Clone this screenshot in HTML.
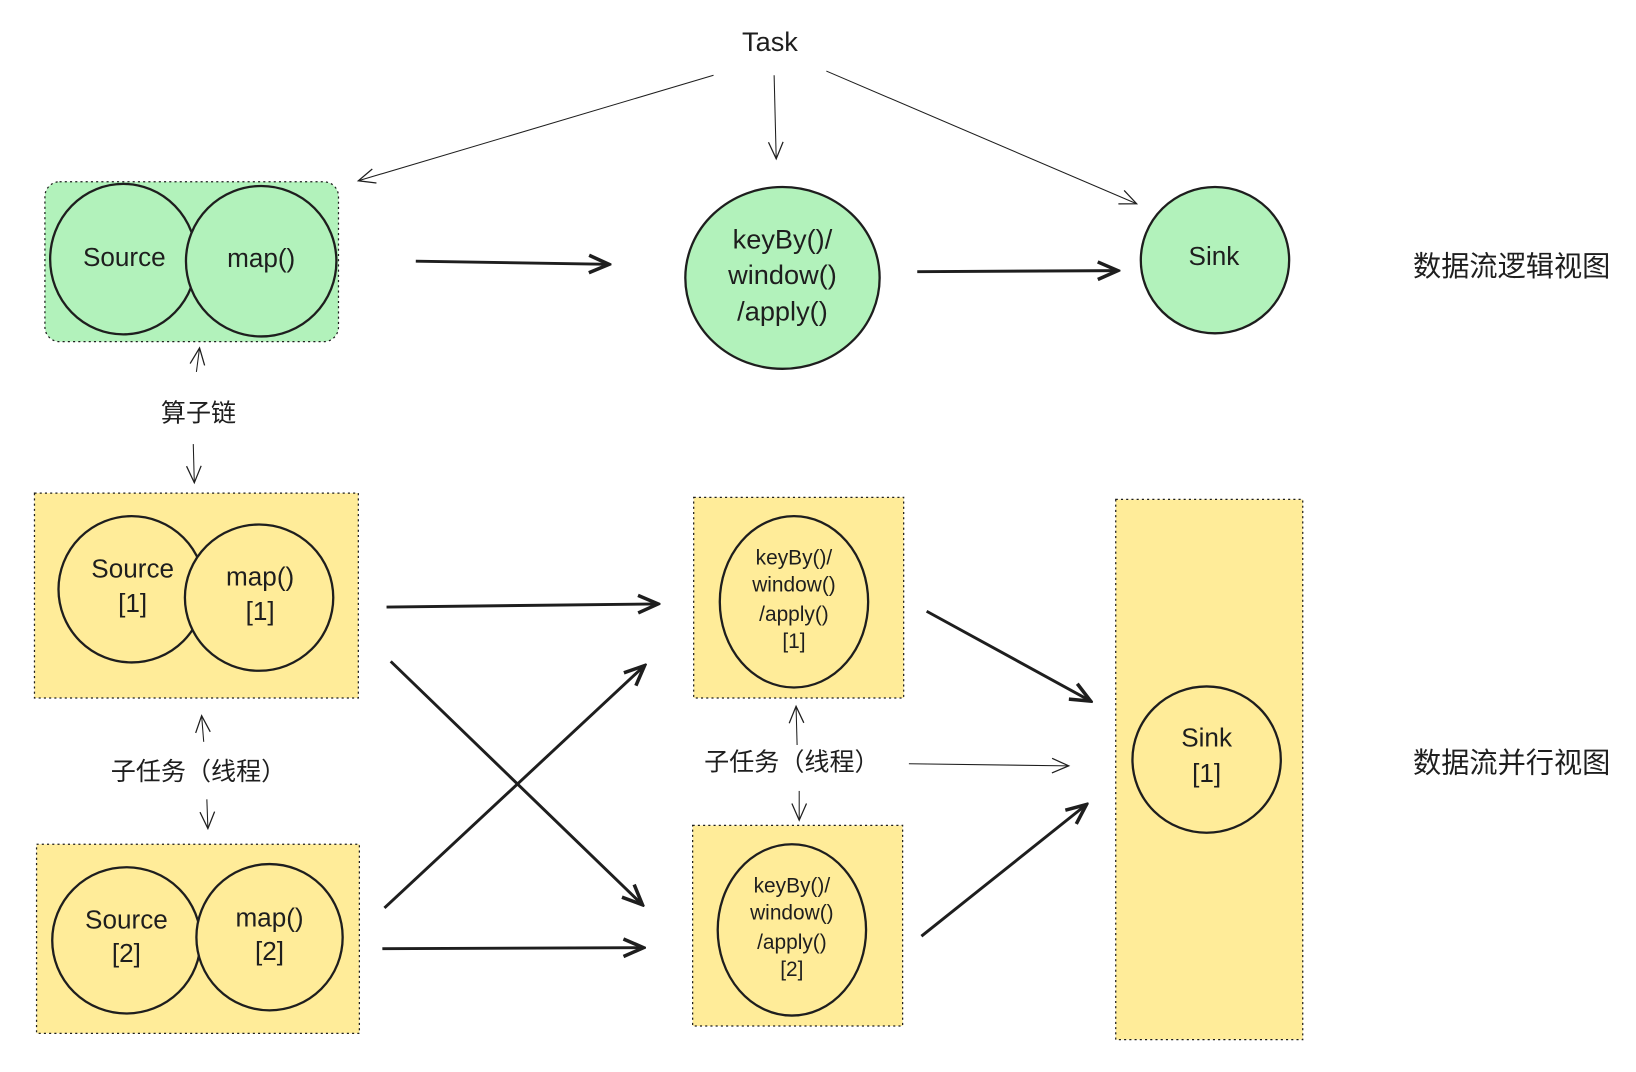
<!DOCTYPE html>
<html><head><meta charset="utf-8"><style>
html,body{margin:0;padding:0;background:#fff;width:1636px;height:1072px;overflow:hidden}
svg{display:block}
text{font-family:"Liberation Sans","Noto Sans CJK SC",sans-serif;fill:#1e1e1e;text-anchor:middle;dominant-baseline:middle}
</style></head><body>
<svg width="1636" height="1072" viewBox="0 0 1566 1026" preserveAspectRatio="none" xmlns="http://www.w3.org/2000/svg">
<defs>
<marker id="a" viewBox="0 0 20 20" refX="18" refY="10" markerWidth="20" markerHeight="20" markerUnits="userSpaceOnUse" orient="auto"><path d="M2 3 L18 10 L2 17" fill="none" stroke="#1e1e1e" stroke-width="1.2"/></marker>
<marker id="b" viewBox="0 0 20 20" refX="18" refY="10" markerWidth="24" markerHeight="24" markerUnits="userSpaceOnUse" orient="auto"><path d="M2 3 L18 10 L2 17" fill="none" stroke="#1e1e1e" stroke-width="2.8"/></marker>
</defs>
<g stroke="#1e1e1e" fill="none">
<rect x="43" y="174" width="281" height="153" rx="14" fill="#b2f2bb" stroke-dasharray="2 3" stroke-width="1.2"/>
<rect x="33" y="472" width="310" height="196" fill="#ffec99" stroke-dasharray="2 3" stroke-width="1.2"/>
<rect x="35" y="808" width="309" height="181" fill="#ffec99" stroke-dasharray="2 3" stroke-width="1.2"/>
<rect x="664" y="476" width="201" height="192" fill="#ffec99" stroke-dasharray="2 3" stroke-width="1.2"/>
<rect x="663" y="790" width="201" height="192" fill="#ffec99" stroke-dasharray="2 3" stroke-width="1.2"/>
<rect x="1068" y="478" width="179" height="517" fill="#ffec99" stroke-dasharray="2 3" stroke-width="1.2"/>
<g stroke-width="2.2">
<ellipse cx="118" cy="248" rx="70" ry="72" fill="#b2f2bb"/>
<ellipse cx="250" cy="250" rx="72" ry="72" fill="#b2f2bb"/>
<ellipse cx="749" cy="266" rx="93" ry="87" fill="#b2f2bb"/>
<ellipse cx="1163" cy="249" rx="71" ry="70" fill="#b2f2bb"/>
<ellipse cx="126" cy="564" rx="70" ry="70" fill="#ffec99"/>
<ellipse cx="248" cy="572" rx="71" ry="70" fill="#ffec99"/>
<ellipse cx="121" cy="900" rx="71" ry="70" fill="#ffec99"/>
<ellipse cx="258" cy="897" rx="70" ry="70" fill="#ffec99"/>
<ellipse cx="760" cy="576" rx="71" ry="82" fill="#ffec99"/>
<ellipse cx="758" cy="890" rx="71" ry="82" fill="#ffec99"/>
<ellipse cx="1155" cy="727" rx="71" ry="70" fill="#ffec99"/>
</g>
<g stroke-width="1" marker-end="url(#a)">
<line x1="683" y1="72" x2="343" y2="173"/>
<line x1="741" y1="72" x2="743" y2="152"/>
<line x1="791" y1="68" x2="1088" y2="195"/>
<line x1="188" y1="356" x2="191" y2="333"/>
<line x1="185" y1="425" x2="186" y2="462"/>
<line x1="195" y1="710" x2="193" y2="685"/>
<line x1="198" y1="765" x2="199" y2="793"/>
<line x1="763" y1="713" x2="762" y2="676"/>
<line x1="765" y1="757" x2="765" y2="785"/>
<line x1="870" y1="731" x2="1023" y2="733"/>
</g>
<g stroke-width="2.8" marker-end="url(#b)">
<line x1="398" y1="250" x2="583" y2="253"/>
<line x1="878" y1="260" x2="1070" y2="259"/>
<line x1="370" y1="581" x2="630" y2="578"/>
<line x1="374" y1="633" x2="615" y2="866"/>
<line x1="368" y1="869" x2="617" y2="637"/>
<line x1="366" y1="908" x2="616" y2="907"/>
<line x1="887" y1="585" x2="1044" y2="671"/>
<line x1="882" y1="896" x2="1040" y2="770"/>
</g>
</g>
<text x="737" y="42" font-size="26">Task</text>
<text x="119" y="248" font-size="25">Source</text>
<text x="250" y="249" font-size="25">map()</text>
<text x="749" y="231" font-size="26">keyBy()/</text>
<text x="749" y="265" font-size="26">window()</text>
<text x="749" y="300" font-size="26">/apply()</text>
<text x="1162" y="247" font-size="25">Sink</text>
<text x="1447" y="257" font-size="27">数据流逻辑视图</text>
<text x="1447" y="732" font-size="27">数据流并行视图</text>
<text x="190" y="397" font-size="24">算子链</text>
<text x="190" y="740" font-size="24">子任务（线程）</text>
<text x="758" y="731" font-size="24">子任务（线程）</text>
<text x="127" y="546" font-size="25">Source</text>
<text x="127" y="579" font-size="25">[1]</text>
<text x="249" y="554" font-size="25">map()</text>
<text x="249" y="587" font-size="25">[1]</text>
<text x="121" y="882" font-size="25">Source</text>
<text x="121" y="914" font-size="25">[2]</text>
<text x="258" y="880" font-size="25">map()</text>
<text x="258" y="912" font-size="25">[2]</text>
<g font-size="20">
<text x="760" y="535">keyBy()/</text><text x="760" y="561">window()</text><text x="760" y="589">/apply()</text><text x="760" y="615">[1]</text>
<text x="758" y="849">keyBy()/</text><text x="758" y="875">window()</text><text x="758" y="903">/apply()</text><text x="758" y="929">[2]</text>
</g>
<text x="1155" y="708" font-size="25">Sink</text>
<text x="1155" y="742" font-size="25">[1]</text>
</svg>
</body></html>
